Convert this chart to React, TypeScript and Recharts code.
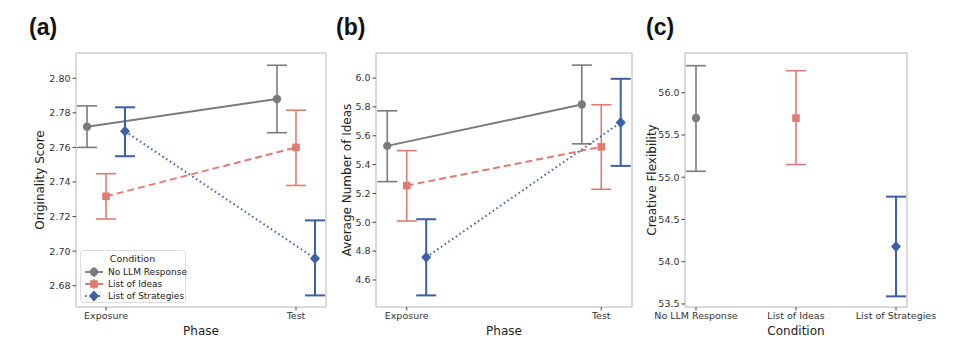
import React from "react"
import {
  ComposedChart,
  Line,
  XAxis,
  YAxis,
  ErrorBar,
  ReferenceLine,
  Legend,
} from "recharts"

const phases = ["Exposure", "Test"]
const conditions = ["No LLM Response", "List of Ideas", "List of Strategies"]

// (a) originality score per phase
const origNoLLM = [2.772, 2.788]
const origNoLLMLow = [2.76, 2.7685]
const origNoLLMHigh = [2.784, 2.8075]
const origIdeas = [2.7317, 2.76]
const origIdeasLow = [2.7186, 2.738]
const origIdeasHigh = [2.7448, 2.7815]
const origStrat = [2.7693, 2.6958]
const origStratLow = [2.7549, 2.6744]
const origStratHigh = [2.7832, 2.7178]
const origTicks = [2.68, 2.7, 2.72, 2.74, 2.76, 2.78, 2.8]

// (b) average number of ideas per phase
const ideasNoLLM = [5.53, 5.817]
const ideasNoLLMLow = [5.282, 5.544]
const ideasNoLLMHigh = [5.773, 6.09]
const ideasIdeas = [5.254, 5.523]
const ideasIdeasLow = [5.009, 5.229]
const ideasIdeasHigh = [5.497, 5.815]
const ideasStrat = [4.757, 5.692]
const ideasStratLow = [4.493, 5.391]
const ideasStratHigh = [5.021, 5.995]
const ideasTicks = [4.6, 4.8, 5.0, 5.2, 5.4, 5.6, 5.8, 6.0]

// (c) creative flexibility per condition
const flexMean = [55.7, 55.7, 54.18]
const flexLow = [55.07, 55.15, 53.59]
const flexHigh = [56.32, 56.26, 54.77]
const flexTicks = [53.5, 54.0, 54.5, 55.0, 55.5, 56.0]

const GRAY = "#7b7b7b"
const RED = "#e07b74"
const BLUE = "#3d5fa6"
const FONT = "DejaVu Sans, sans-serif"
const DODGE = 0.1

type Shape = "circle" | "square" | "diamond"

function Marker({ cx, cy, shape, color }: { cx: number; cy: number; shape: Shape; color: string }) {
  if (cx == null || cy == null) return null
  if (shape === "circle") return <circle cx={cx} cy={cy} r={4.2} fill={color} />
  if (shape === "square") return <rect x={cx - 3.8} y={cy - 3.8} width={7.6} height={7.6} fill={color} />
  return <polygon points={`${cx},${cy - 5.5} ${cx + 5},${cy} ${cx},${cy + 5.5} ${cx - 5},${cy}`} fill={color} />
}

const styles = [
  { color: GRAY, shape: "circle" as Shape, dash: undefined, width: 2, ebw: 1.6 },
  { color: RED, shape: "square" as Shape, dash: "7 4", width: 2, ebw: 1.6 },
  { color: BLUE, shape: "diamond" as Shape, dash: "1.5 3", width: 2, ebw: 2 },
]

function buildRows(mean: number[], low: number[], high: number[], offset: number) {
  return mean.map((m, i) => ({ x: i + offset, y: m, err: [m - low[i], high[i] - m] }))
}

function LegendBox() {
  return (
    <div
      style={{
        border: "1px solid #ddd",
        borderRadius: 3,
        background: "rgba(255,255,255,0.85)",
        fontFamily: FONT,
        fontSize: 9,
        color: "#222",
        padding: "2px 4px 2px 3px",
        boxSizing: "border-box",
        width: 106,
        height: 53,
        whiteSpace: "nowrap",
      }}
    >
      <div style={{ textAlign: "center", lineHeight: "12px", marginBottom: 1, fontSize: 9.5 }}>Condition</div>
      {conditions.map((c, i) => (
        <div key={c} style={{ display: "flex", alignItems: "center", height: 12 }}>
          <svg width={20} height={12} style={{ marginRight: 4, flex: "none" }}>
            <line x1={1} y1={6} x2={19} y2={6} stroke={styles[i].color} strokeWidth={1.8} strokeDasharray={styles[i].dash} />
            <line x1={10} y1={1} x2={10} y2={11} stroke={styles[i].color} strokeWidth={1.4} />
            <Marker cx={10} cy={6} shape={styles[i].shape} color={styles[i].color} />
          </svg>
          <span>{c}</span>
        </div>
      ))}
    </div>
  )
}

interface PanelProps {
  width: number
  yAxisWidth: number
  marginRight: number
  yLabel: string
  yLabelOffset: number
  xLabel: string
  yDomain: [number, number]
  yTicks: number[]
  yDigits: number
  xDomain: [number, number]
  xTicks: number[]
  xNames: string[]
  series: { x: number; y: number; err: number[] }[][]
  showLegend?: boolean
}

function Panel(p: PanelProps) {
  return (
    <ComposedChart
      width={p.width}
      height={353}
      margin={{ top: 53, right: p.marginRight, bottom: 16, left: 0 }}
    >
      <XAxis
        type="number"
        dataKey="x"
        domain={p.xDomain}
        ticks={p.xTicks}
        allowDataOverflow
        interval={0}
        tickFormatter={(v: number) => p.xNames[Math.round(v)] ?? ""}
        height={30}
        tickSize={3.5}
        tickMargin={2}
        tickLine={{ stroke: "#444" }}
        axisLine={{ stroke: "#b4b4b4" }}
        tick={{ fontSize: 9.5, fill: "#333", fontFamily: FONT }}
        label={{ value: p.xLabel, position: "insideBottom", offset: 2, style: { fontSize: 12, fill: "#222", fontFamily: FONT } }}
      />
      <YAxis
        type="number"
        domain={p.yDomain}
        ticks={p.yTicks}
        allowDataOverflow
        interval={0}
        width={p.yAxisWidth}
        tickFormatter={(v: number) => v.toFixed(p.yDigits)}
        tickSize={3.5}
        tickMargin={2}
        tickLine={{ stroke: "#444" }}
        axisLine={{ stroke: "#b4b4b4" }}
        tick={{ fontSize: 9.5, fill: "#333", fontFamily: FONT }}
        label={{
          value: p.yLabel,
          angle: -90,
          position: "insideLeft",
          offset: p.yLabelOffset,
          style: { textAnchor: "middle", fontSize: 12, fill: "#222", fontFamily: FONT },
        }}
      />
      <ReferenceLine y={p.yDomain[1]} stroke="#b4b4b4" />
      <ReferenceLine x={p.xDomain[1]} stroke="#b4b4b4" />
      {p.series.map((rows, i) => (
        <Line
          key={i}
          data={rows}
          dataKey="y"
          name={conditions[i]}
          stroke={styles[i].color}
          strokeWidth={styles[i].width}
          strokeDasharray={styles[i].dash}
          isAnimationActive={false}
          dot={(d: any) => <Marker key={`m${i}-${d.index}`} cx={d.cx} cy={d.cy} shape={styles[i].shape} color={styles[i].color} />}
          activeDot={false}
        >
          <ErrorBar dataKey="err" width={10} stroke={styles[i].color} strokeWidth={styles[i].ebw} direction="y" />
        </Line>
      ))}
      {p.showLegend && (
        <Legend
          layout="vertical"
          align="center"
          verticalAlign="middle"
          content={() => <LegendBox />}
          wrapperStyle={{ left: 80, top: 250, width: 106, height: 53 }}
        />
      )}
    </ComposedChart>
  )
}

const panelLabel = (text: string, left: number) => (
  <div
    style={{
      position: "absolute",
      left,
      top: 13,
      fontFamily: "Liberation Sans, Arial, sans-serif",
      fontWeight: "bold",
      fontSize: 23,
      lineHeight: "28px",
      color: "#111",
    }}
  >
    {text}
  </div>
)

export default function App() {
  const origSeries = [
    buildRows(origNoLLM, origNoLLMLow, origNoLLMHigh, -DODGE),
    buildRows(origIdeas, origIdeasLow, origIdeasHigh, 0),
    buildRows(origStrat, origStratLow, origStratHigh, DODGE),
  ]
  const ideasSeries = [
    buildRows(ideasNoLLM, ideasNoLLMLow, ideasNoLLMHigh, -DODGE),
    buildRows(ideasIdeas, ideasIdeasLow, ideasIdeasHigh, 0),
    buildRows(ideasStrat, ideasStratLow, ideasStratHigh, DODGE),
  ]
  const flexSeries = flexMean.map((m, i) => [{ x: i, y: m, err: [m - flexLow[i], flexHigh[i] - m] }])

  return (
    <div style={{ position: "absolute", left: 0, top: 0, width: 960, height: 353, background: "#fff", overflow: "hidden" }}>
      <div style={{ position: "absolute", left: 0, top: 0 }}>
        <Panel
          width={330}
          yAxisWidth={76}
          marginRight={4}
          yLabel="Originality Score"
          yLabelOffset={40}
          xLabel="Phase"
          yDomain={[2.6677, 2.8146]}
          yTicks={origTicks}
          yDigits={2}
          xDomain={[-0.158, 1.158]}
          xTicks={[0, 1]}
          xNames={phases}
          series={origSeries}
          showLegend
        />
      </div>
      <div style={{ position: "absolute", left: 320, top: 0 }}>
        <Panel
          width={316}
          yAxisWidth={56}
          marginRight={4}
          yLabel="Average Number of Ideas"
          yLabelOffset={27}
          xLabel="Phase"
          yDomain={[4.4125, 6.174]}
          yTicks={ideasTicks}
          yDigits={1}
          xDomain={[-0.158, 1.158]}
          xTicks={[0, 1]}
          xNames={phases}
          series={ideasSeries}
        />
      </div>
      <div style={{ position: "absolute", left: 630, top: 0 }}>
        <Panel
          width={330}
          yAxisWidth={55}
          marginRight={53}
          yLabel="Creative Flexibility"
          yLabelOffset={22}
          xLabel="Condition"
          yDomain={[53.464, 56.47]}
          yTicks={flexTicks}
          yDigits={1}
          xDomain={[-0.11, 2.11]}
          xTicks={[0, 1, 2]}
          xNames={conditions}
          series={flexSeries}
        />
      </div>
      {panelLabel("(a)", 29)}
      {panelLabel("(b)", 336)}
      {panelLabel("(c)", 646)}
    </div>
  )
}
